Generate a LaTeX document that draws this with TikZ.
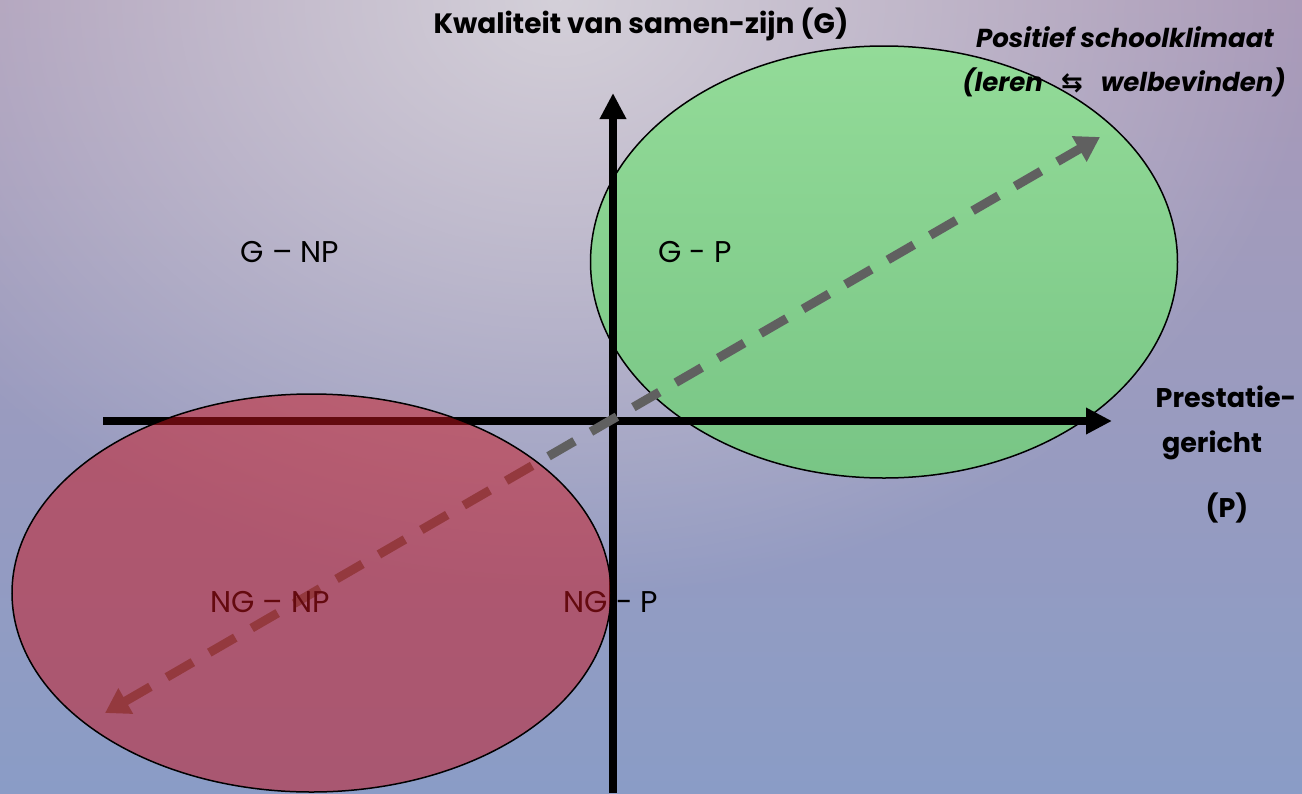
\documentclass[tikz,border=0pt]{standalone}
\usepackage{fontspec}
\setmainfont{Poppins}
\newfontfamily\symfont{DejaVu Sans}
\usetikzlibrary{arrows.meta,fadings,shapes.geometric}
\definecolor{bgtop}{HTML}{AA9AB8}
\definecolor{bgmid}{HTML}{A09EBE}
\definecolor{bgbot}{HTML}{8A9CC6}
\definecolor{glowc}{HTML}{D4D0D9}
\definecolor{greentop}{HTML}{93DB98}
\definecolor{greenbot}{HTML}{78C585}
\definecolor{redfill}{HTML}{C8141E}
\definecolor{dashgray}{HTML}{606060}
\tikzfading[name=glowfade, inner color=transparent!0, outer color=transparent!100]
\tikzset{
  axis/.style={line width=8pt, -{Triangle[length=26pt,width=25pt]}},
  diag/.style={line width=9pt, dashgray, dash pattern=on 30pt off 19pt,
    {Triangle[length=24pt,width=28pt]}-{Triangle[length=24pt,width=28pt]}},
  quad/.style={font=\fontsize{30}{34}\selectfont, anchor=base, inner sep=0pt},
  boldlbl/.style={font=\fontsize{28}{32}\bfseries\selectfont, anchor=base, inner sep=0pt},
  itlbl/.style={font=\fontsize{26}{30}\bfseries\itshape\selectfont, anchor=base, inner sep=0pt},
  sidelbl/.style={font=\fontsize{27}{30}\bfseries\selectfont, anchor=base, inner sep=0pt},
  ell/.style={draw=black, line width=1.5pt}
}
\begin{document}
\begin{tikzpicture}[x=1pt,y=-1pt]
\useasboundingbox (0,0) rectangle (1302,793);
% background
\shade[top color=bgtop, middle color=bgmid, bottom color=bgbot] (0,0) rectangle (1302,793);
\fill[glowc, path fading=glowfade] (560,0) ellipse (760 and 600);
% green ellipse
\shade[ell, top color=greentop, bottom color=greenbot] (884,262) ellipse (293.5 and 216);
% axes
\coordinate (yb) at (613,793);
\coordinate (yt) at (613,93);
\coordinate (xl) at (103,421);
\coordinate (xr) at (1112,421);
\draw[axis] (yb) -- (yt);
\draw[axis] (xl) -- (xr);
% diagonal dashed arrow
\coordinate (dl) at (105,713);
\coordinate (dr) at (1100,137);
\draw[diag] (dl) -- (dr);
% quadrant labels
\node[quad] (gnp) at (290,262) {G – NP};
\node[quad] (gp) at (695,262) {G - P};
\node[quad] (ngnp) at (270,612) {NG – NP};
\node[quad] (ngp) at (611,612) {NG - P};
% red ellipse
\fill[redfill, opacity=0.5] (311.5,593) ellipse (299.5 and 199);
\draw[black, line width=1.5pt] (311.5,593) ellipse (299.5 and 199);
% axis labels
\node[boldlbl] (title) at (641,33) {Kwaliteit van samen-zijn (G)};
\node[itlbl] (pos1) at (1125,47) {Positief schoolklimaat};
\node[itlbl] (pos2) at (1124,91) {(leren \ \ {\symfont\bfseries ⇆}\ \ \ welbevinden)};
\node[sidelbl] (p1) at (1226,407) {Prestatie-};
\node[sidelbl] (p2) at (1212,452) {gericht};
\node[sidelbl] (p3) at (1227,517) {(P)};
\end{tikzpicture}
\end{document}
